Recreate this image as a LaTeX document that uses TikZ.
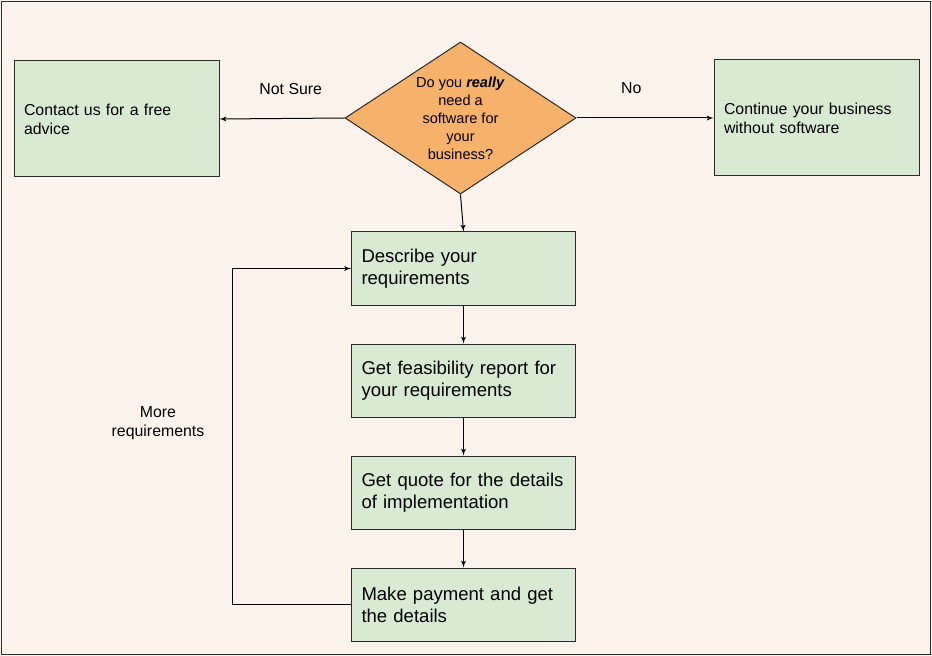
\documentclass[tikz,border=0pt]{standalone}
\usepackage{fontspec}
\setmainfont{Liberation Sans}
\usepackage{tikz}
\usetikzlibrary{shapes,arrows}
\usetikzlibrary{positioning}
\definecolor{paper}{HTML}{FCF3ED}
\definecolor{stepgreen}{HTML}{D9EAD3}
\definecolor{askorange}{HTML}{F6B26B}
\definecolor{edge}{HTML}{2B2B2B}
\tikzset{auto,>=latex', node distance=28.5pt, font=\fontsize{11.9}{14.3}\selectfont}
\tikzstyle{sidebox} = [draw=edge, fill=stepgreen, rectangle, minimum width=153.75pt, minimum height=87pt, text width=138.75pt, inner xsep=7.5pt, align=left]
\tikzstyle{stepbox} = [draw=edge, fill=stepgreen, rectangle, minimum width=168pt, minimum height=54.75pt, text width=153pt, inner xsep=7.5pt, align=left, font=\fontsize{13.9}{16.5}\selectfont]
\tikzstyle{decision} = [draw=edge, fill=askorange, diamond, aspect=1.52, minimum width=173.25pt, minimum height=114pt, inner sep=0pt, align=center, font=\fontsize{10.9}{13.5}\selectfont]
\tikzstyle{label} = [align=center]

\begin{document}
\begin{tikzpicture}[x=0.75pt, y=-0.75pt, line width=0.75pt]
    \fill [paper] (0,0) rectangle (932,656);
    \draw [edge] (1.5,1.5) rectangle (930.5,654.5);
    \useasboundingbox (0,0) rectangle (932,656);

    \node [decision] (question) at (460.5,118) {Do you \textbf{\textit{really}}\\need a\\software for\\your\\business?};
    \node [sidebox] (contact) at (116.5,119) {Contact us for a free\\advice};
    \node [sidebox] (continue) at (816.5,118) {Continue your business\\without software};
    \node [stepbox] (describe) at (463.5,268.5) {Describe your\\requirements};
    \node [stepbox, below=of describe] (feasibility) {Get feasibility report for\\your requirements};
    \node [stepbox, below=of feasibility] (quote) {Get quote for the details\\of implementation};
    \node [stepbox, below=of quote] (payment) {Make payment and get\\the details};
    \node [label] (more) at (158,423) {More\\requirements};

    \draw [->] (question.west) -- node [pos=0.43, yshift=30pt] {Not Sure} (contact.east);
    \draw [->] (question.east) -- node [pos=0.40, yshift=30pt, swap] {No} (continue.west);
    \draw [->] (question.south) -- (describe.north);
    \draw [->] (describe) -- (feasibility);
    \draw [->] (feasibility) -- (quote);
    \draw [->] (quote) -- (payment);
    \draw [->] (payment.west) -- ++(-119,0) |- (describe.west);
\end{tikzpicture}
\end{document}
